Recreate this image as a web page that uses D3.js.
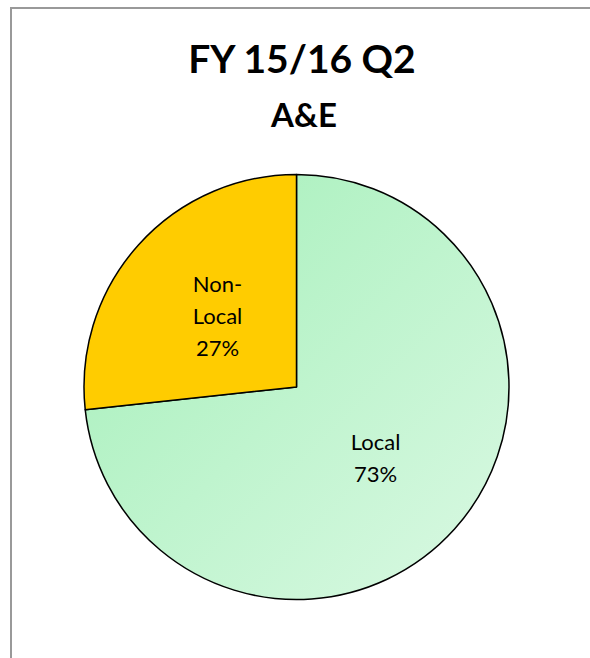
<!DOCTYPE html>
<html>
<head>
<meta charset="utf-8">
<script src="https://cdn.jsdelivr.net/npm/d3@7"></script>
<style>
  body { margin: 0; background: #fff; }
  svg { display: block; font-family: Lato, "Noto Sans", sans-serif; }
</style>
</head>
<body>
<svg width="590" height="658"></svg>
<script>
var categories = ["Local", "Non-Local"];
var values = [73.3, 26.7];
var labelLines = [["Local"], ["Non-", "Local"]];
var colors = ["url(#greenGrad)", "#ffcc00"];

var svg = d3.select("svg"),
  width = +svg.attr("width"),
  height = +svg.attr("height");

// chart area border (runs off the right/bottom edge)
svg.append("rect")
  .attr("x", 11)
  .attr("y", 8)
  .attr("width", 620)
  .attr("height", 700)
  .style("fill", "#fff")
  .style("stroke", "#999")
  .style("stroke-width", 2);

var cx = 296.5, cy = 387, r = 212.5;

var defs = svg.append("defs");
var grad = defs.append("linearGradient")
  .attr("id", "greenGrad")
  .attr("gradientUnits", "userSpaceOnUse")
  .attr("x1", 120 - cx).attr("y1", 220 - cy)
  .attr("x2", 470 - cx).attr("y2", 570 - cy);
grad.append("stop").attr("offset", "0%").attr("stop-color", "#a8f0bc");
grad.append("stop").attr("offset", "100%").attr("stop-color", "#d6f8e0");

svg.append("text")
  .attr("x", 302)
  .attr("y", 73)
  .attr("text-anchor", "middle")
  .style("font-weight", "bold")
  .style("font-size", "39px")
  .text("FY 15/16 Q2");

svg.append("text")
  .attr("x", 304)
  .attr("y", 127)
  .attr("text-anchor", "middle")
  .style("font-weight", "bold")
  .style("font-size", "33px")
  .text("A&E");

var total = d3.sum(values);
var pie = d3.pie().sort(null).value(function (d) { return d; });
var arcs = pie(values);
var arc = d3.arc().innerRadius(0).outerRadius(r);
var labelArc = d3.arc().innerRadius(r * 0.5).outerRadius(r * 0.5);

var g = svg.append("g").attr("transform", "translate(" + cx + "," + cy + ")");

g.selectAll("path")
  .data(arcs)
  .enter()
  .append("path")
  .attr("d", arc)
  .style("fill", function (d, i) { return colors[i]; })
  .style("stroke", "#000")
  .style("stroke-width", 1.5)
  .style("stroke-linejoin", "round");

var lineH = 32;
g.selectAll("text.lbl")
  .data(arcs)
  .enter()
  .append("text")
  .attr("class", "lbl")
  .attr("text-anchor", "middle")
  .style("font-size", "22px")
  .attr("transform", function (d) {
    var c = labelArc.centroid(d);
    return "translate(" + c[0] + "," + c[1] + ")";
  })
  .each(function (d, i) {
    var lines = labelLines[i].concat([Math.round(d.value / total * 100) + "%"]);
    var t = d3.select(this);
    lines.forEach(function (s, j) {
      t.append("tspan")
        .attr("x", 0)
        .attr("y", (j - (lines.length - 1) / 2) * lineH + 8)
        .text(s);
    });
  });
</script>
</body>
</html>
